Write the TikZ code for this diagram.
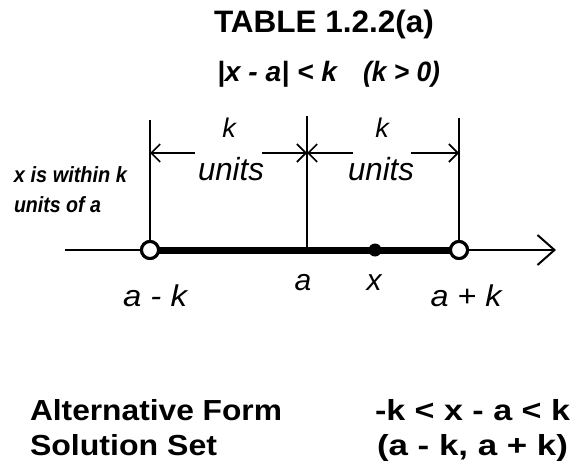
\documentclass[tikz,border=0pt]{standalone}
\usepackage{fontspec}
\setmainfont{Liberation Sans}
\usepackage{graphicx}
\usetikzlibrary{arrows.meta}
\newcommand{\fitw}[2]{\resizebox{#1}{\height}{#2}}
\newcommand{\fsz}[1]{\fontsize{#1}{#1}\selectfont}
\begin{document}
\begin{tikzpicture}[x=1pt,y=-1pt,
  txt/.style={inner sep=0pt, outer sep=0pt},
  thinline/.style={line width=1.6pt},
  dimarrow/.style={line width=1.6pt, -{Straight Barb[length=9pt,width=18pt]}},
  axisarrow/.style={line width=1.6pt, -{Straight Barb[length=17pt,width=30pt,line width=2pt]}},
  opencirc/.style={circle, draw, line width=3pt, fill=white, minimum size=17pt, inner sep=0pt},
  soliddot/.style={circle, fill=black, minimum size=13pt, inner sep=0pt},
]
\useasboundingbox (0,0) rectangle (578,468);

% titles
\node[txt, anchor=base] (title) at (324,33) {\fitw{220pt}{\fsz{31}\bfseries TABLE 1.2.2(a)}};
\node[txt, anchor=base west] (ineq) at (217,82) {\fitw{120pt}{\fsz{28}\bfseries\itshape |x - a| < k}};
\node[txt, anchor=base west] (cond) at (363,82) {\fitw{77pt}{\fsz{28}\bfseries\itshape (k > 0)}};

% number line
\coordinate (s) at (65,250);
\coordinate (e) at (556,250);
\coordinate (A) at (307,250);
\draw[axisarrow] (s) -- (e);
\node[opencirc] (L) at (150,250) {};
\node[opencirc] (R) at (459,250) {};
\draw[line width=7pt] (L.center) -- (R.center);
\node[opencirc] at (L.center) {};
\node[opencirc] at (R.center) {};
\node[soliddot] (X) at (375,250) {};

% vertical lines
\coordinate (Lt) at (150,120);
\coordinate (At) at (307,116);
\coordinate (Rt) at (459,118);
\draw[thinline] (Lt) -- (L.north);
\draw[thinline] (At) -- (A);
\draw[thinline] (Rt) -- (R.north);

% dimension arrows
\coordinate (Ld) at (150,153);
\coordinate (Ad) at (307,153);
\coordinate (Rd) at (459,153);
\coordinate (d1) at (195,153);
\coordinate (d2) at (262,153);
\coordinate (d3) at (353,153);
\coordinate (d4) at (411,153);
\draw[dimarrow] (d1) -- (Ld);
\draw[dimarrow] (d2) -- (Ad);
\draw[dimarrow] (d3) -- (Ad);
\draw[dimarrow] (d4) -- (Rd);

% dimension labels
\node[txt, anchor=base] (k1) at (229,138) {\fsz{27}\itshape k};
\node[txt, anchor=base] (k2) at (382,138) {\fsz{27}\itshape k};
\node[txt, anchor=base] (u1) at (231,180) {\fitw{66pt}{\fsz{32}\itshape units}};
\node[txt, anchor=base] (u2) at (381,180) {\fitw{66pt}{\fsz{32}\itshape units}};

% side note
\node[txt, anchor=base west] (n1) at (14,182) {\fitw{113pt}{\fsz{22}\bfseries\itshape x is within k}};
\node[txt, anchor=base west] (n2) at (14,212) {\fitw{87pt}{\fsz{22}\bfseries\itshape units of a}};

% point labels
\node[txt, anchor=base] (la) at (303,290) {\fsz{30}\itshape a};
\node[txt, anchor=base] (lx) at (374,290) {\fsz{30}\itshape x};
\node[txt, anchor=base] (lam) at (155,306) {\fitw{64pt}{\fsz{30}\itshape a - k}};
\node[txt, anchor=base] (lap) at (466,306) {\fitw{71pt}{\fsz{30}\itshape a + k}};

% bottom
\node[txt, anchor=base west] (alt) at (30,420) {\fitw{252pt}{\fsz{29}\bfseries Alternative Form}};
\node[txt, anchor=base west] (sol) at (30,455) {\fitw{187pt}{\fsz{29}\bfseries Solution Set}};
\node[txt, anchor=base west] (altv) at (375,420) {\fitw{195pt}{\fsz{29}\bfseries -k < x - a < k}};
\node[txt, anchor=base west] (solv) at (377,455) {\fitw{191pt}{\fsz{29}\bfseries (a - k, a + k)}};
\end{tikzpicture}
\end{document}
